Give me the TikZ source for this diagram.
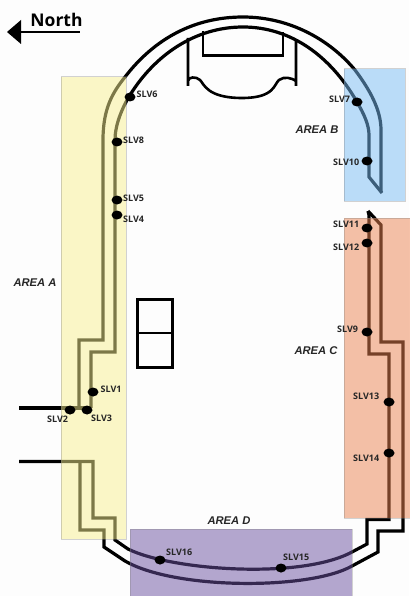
\documentclass[tikz,border=0pt]{standalone}
\usepackage{fontspec}
\setmainfont{Open Sans}
\newfontfamily\areafont{Liberation Sans}
\definecolor{bgc}{RGB}{253,253,253}
\definecolor{ayel}{RGB}{249,241,145}
\definecolor{ablu}{RGB}{120,188,244}
\definecolor{aora}{RGB}{235,131,81}
\definecolor{apur}{RGB}{107,81,161}
\tikzset{
  track/.style={draw=black,line width=3.2pt,line join=miter},
  area/.style={fill opacity=.5,draw opacity=.35,draw=gray,line width=1pt},
  sensor/.style={ellipse,fill=black,minimum width=11pt,minimum height=9pt,inner sep=0pt},
  slv/.style={font=\bfseries\fontsize{9}{9}\selectfont,inner sep=0pt,anchor=west,text=black!85},
  arealabel/.style={font=\areafont\bfseries\itshape\fontsize{11.2}{11.2}\selectfont,inner sep=0pt,text=black!85},
}
\usetikzlibrary{shapes.geometric}
\begin{document}
\begin{tikzpicture}[x=1pt,y=-1pt]
\useasboundingbox (0,0) rectangle (409,596);
\fill[bgc] (0,0) rectangle (409,596);
% north arrow
\node[inner sep=0pt,font=\bfseries\fontsize{17.5}{17.5}\selectfont] (north) at (56.5,20) {North};
\fill (7,32) -- (21,20) -- (21,44) -- cycle;
\draw[line width=1.6pt] (20,32) -- (80,32);
% building
\draw[line width=2.6pt] (188,38) -- (188,86)
  (188,81) .. controls (188,77) and (196,76) .. (200,80)
  .. controls (204,84) and (207,98) .. (242,98)
  .. controls (275,98) and (274,84) .. (279,80)
  .. controls (284,76) and (292,78) .. (296,81)
  (296,86) -- (296,40);
\draw[line width=2.6pt] (203,31) -- (203,55.5) -- (283,55.5) -- (283,32);
% middle box
\draw[line width=2.8pt] (137.5,299.5) rectangle (172.5,367.5) (137.5,333) -- (172.5,333);
% outer track, north side
\draw[track] (79,408) -- (79,340) -- (103,340) -- (103,140)
  .. controls (103,108) and (113,92) .. (125,77)
  .. controls (155,38) and (195,17) .. (243,17)
  .. controls (290,17) and (330,40) .. (355,70)
  .. controls (370,90) and (381,110) .. (381,130)
  -- (381,192);
% inner track, north side
\draw[track] (91,408) -- (91,352) -- (115,352) -- (115,140)
  .. controls (115,125) and (122,108) .. (130,95)
  .. controls (155,55) and (195,27) .. (243,27)
  .. controls (290,27) and (330,55) .. (357,102)
  .. controls (364,114) and (369,125) .. (369,135)
  -- (369,177) -- (382,193);
% south side tracks
\draw[track] (19,461.5) -- (93,461.5) -- (93,518) -- (115,518) -- (115,540)
  -- (128,549) .. controls (170,570) and (300,580) .. (352,552)
  -- (367,544) -- (367,519.5) -- (389,519.5) -- (389,354) -- (369,354) -- (369,215) -- (368,211);
\draw[track] (80,461.5) -- (80,530) -- (104,530) -- (104,547)
  -- (125,561) .. controls (175,590) and (310,590) .. (352,566)
  -- (378,552) -- (378,531) -- (403,531) -- (403,342) -- (381,342) -- (381,225) -- (368,211);
% west feed
\draw[track] (19,408) -- (91,408);
% areas
\path[area,fill=ayel] (61,77) rectangle (126,539);
\path[area,fill=ablu] (344,69) rectangle (405,201);
\path[area,fill=aora] (344,218) rectangle (410,518);
\path[area,fill=apur] (130,529) rectangle (352,597);
% sensors
\node[sensor] (s6) at (130,97) {};
\node[sensor] (s8) at (117,142) {};
\node[sensor] (s5) at (117,200) {};
\node[sensor] (s4) at (117,215) {};
\node[sensor] (s1) at (93,392) {};
\node[sensor] (s2) at (70,410) {};
\node[sensor] (s3) at (87,410) {};
\node[sensor] (s7) at (357,102) {};
\node[sensor] (s10) at (367,161) {};
\node[sensor] (s11) at (367,228) {};
\node[sensor] (s12) at (367,243) {};
\node[sensor] (s9) at (367,332) {};
\node[sensor] (s13) at (389,402) {};
\node[sensor] (s14) at (389,453) {};
\node[sensor] (s15) at (281,568) {};
\node[sensor] (s16) at (160,560) {};
% sensor labels
\node[slv] (l6) at (136.5,94) {SLV6};
\node[slv] (l8) at (123,140) {SLV8};
\node[slv] (l5) at (123,198) {SLV5};
\node[slv] (l4) at (123,219) {SLV4};
\node[slv] (l1) at (100.5,389) {SLV1};
\node[slv] (l2) at (47,419) {SLV2};
\node[slv] (l3) at (91,418) {SLV3};
\node[slv] (l7) at (329,99) {SLV7};
\node[slv] (l10) at (333,162) {SLV10};
\node[slv] (l11) at (333,224) {SLV11};
\node[slv] (l12) at (333,247) {SLV12};
\node[slv] (l9) at (337,329) {SLV9};
\node[slv] (l13) at (353,396) {SLV13};
\node[slv] (l14) at (353,458) {SLV14};
\node[slv] (l15) at (283,557) {SLV15};
\node[slv] (l16) at (166,552) {SLV16};
% area labels
\node[arealabel] (aa) at (35,283) {AREA A};
\node[arealabel] (ab) at (317,130) {AREA B};
\node[arealabel] (ac) at (316,351) {AREA C};
\node[arealabel] (ad) at (229,521) {AREA D};
\end{tikzpicture}
\end{document}
